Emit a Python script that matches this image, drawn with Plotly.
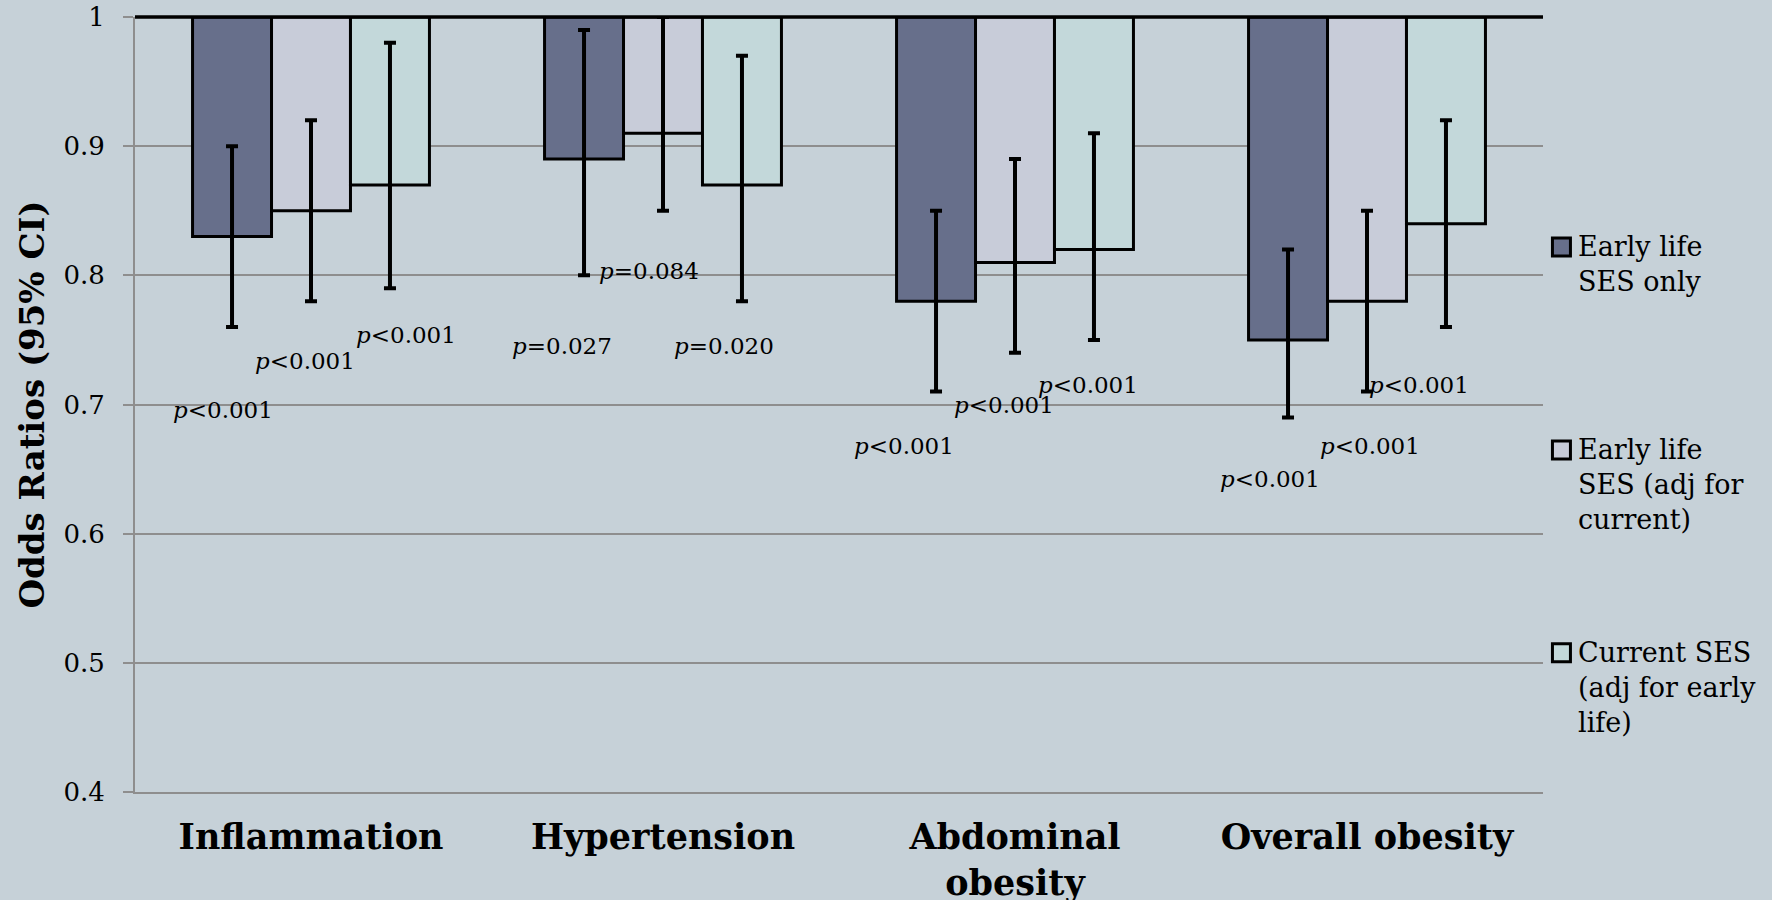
import plotly.graph_objects as go

# ---------------- data ----------------
categories = ["Inflammation", "Hypertension", "Abdominal<br>obesity", "Overall obesity"]
series_names = ["Early life<br>SES only",
                "Early life<br>SES (adj for<br>current)",
                "Current SES<br>(adj for early<br>life)"]

early_only = [0.83, 0.89, 0.78, 0.75]
early_only_lo = [0.76, 0.80, 0.71, 0.69]
early_only_hi = [0.90, 0.99, 0.85, 0.82]

early_adj = [0.85, 0.91, 0.81, 0.78]
early_adj_lo = [0.78, 0.85, 0.74, 0.71]
early_adj_hi = [0.92, 1.00, 0.89, 0.85]

current = [0.87, 0.87, 0.82, 0.84]
current_lo = [0.79, 0.78, 0.75, 0.76]
current_hi = [0.98, 0.97, 0.91, 0.92]

# p-value labels per category and series
p_texts = [
    ["&lt;0.001", "&lt;0.001", "&lt;0.001"],
    ["=0.027", "=0.084", "=0.020"],
    ["&lt;0.001", "&lt;0.001", "&lt;0.001"],
    ["&lt;0.001", "&lt;0.001", "&lt;0.001"],
]
p_label_y = [
    [0.696, 0.734, 0.754],
    [0.745, 0.803, 0.745],
    [0.668, 0.700, 0.715],
    [0.642, 0.668, 0.715],
]
p_label_dx = [
    [-0.25, -0.016, 0.27],
    [-0.287, -0.041, 0.173],
    [-0.316, -0.032, 0.206],
    [-0.276, 0.008, 0.149],
]

y_ticks = [0.4, 0.5, 0.6, 0.7, 0.8, 0.9, 1.0]
y_ticktext = ["0.4", "0.5", "0.6", "0.7", "0.8", "0.9", "1"]

# ---------------- style ----------------
BG = "#c6d1d8"
COLORS = ["#676f8b", "#c8ccd9", "#c3d8da"]
GRID = "#8e8e8e"
FONT = "DejaVu Serif"

fig = go.Figure()

values = [early_only, early_adj, current]
lows = [early_only_lo, early_adj_lo, current_lo]
highs = [early_only_hi, early_adj_hi, current_hi]

for name, vals, lo, hi, col in zip(series_names, values, lows, highs, COLORS):
    fig.add_trace(go.Bar(
        x=categories,
        y=[v - 1 for v in vals],
        base=[1] * len(vals),
        name=name,
        marker=dict(color=col, line=dict(color="black", width=3)),
        error_y=dict(type="data", symmetric=False,
                     array=[h - v for h, v in zip(hi, vals)],
                     arrayminus=[v - l for v, l in zip(vals, lo)],
                     color="black", thickness=4, width=6),
        showlegend=False,
    ))

annotations = []
for ci in range(len(categories)):
    for si in range(3):
        annotations.append(dict(
            x=ci + p_label_dx[ci][si], y=p_label_y[ci][si], xref="x", yref="y",
            text="<i>p</i>" + p_texts[ci][si], showarrow=False,
            xanchor="center", yanchor="middle",
            font=dict(family=FONT, size=23, color="black"),
        ))

# legend (drawn manually to match the reference layout)
legend_y_top = [0.7263, 0.4645, 0.2027]
legend_y_sq = [0.7031, 0.4414, 0.1796]
shapes = []
for name, col, yt, ys in zip(series_names, COLORS, legend_y_top, legend_y_sq):
    shapes.append(dict(type="rect", xref="paper", yref="paper",
                       xsizemode="pixel", ysizemode="pixel",
                       xanchor=1.0131, yanchor=ys,
                       x0=-9, x1=9, y0=-9, y1=9,
                       fillcolor=col, line=dict(color="black", width=3)))
    annotations.append(dict(
        x=1.0235, y=yt, xref="paper", yref="paper", text=name,
        showarrow=False, xanchor="left", yanchor="top", align="left",
        font=dict(family=FONT, size=27, color="black"),
    ))

# thick reference line at OR = 1
shapes.append(dict(type="line", xref="x domain", yref="y domain",
                   x0=0, x1=1, y0=1, y1=1,
                   line=dict(color="black", width=3.5)))

fig.update_layout(
    width=1772, height=900,
    margin=dict(l=135, r=229, t=17, b=108),
    paper_bgcolor=BG, plot_bgcolor=BG,
    barmode="group", bargap=0.327, bargroupgap=0,
    font=dict(family=FONT, color="black"),
    annotations=annotations, shapes=shapes,
    xaxis=dict(
        automargin=False,
        showgrid=False, showline=True, linecolor=GRID, linewidth=2,
        ticks="", ticklabelstandoff=13,
        tickfont=dict(family=FONT, size=35, color="black", weight="bold"),
    ),
    yaxis=dict(
        automargin=False,
        range=[0.4, 1.0], tickmode="array", tickvals=y_ticks, ticktext=y_ticktext,
        showgrid=True, gridcolor=GRID, gridwidth=1.6,
        showline=True, linecolor=GRID, linewidth=2,
        ticks="outside", ticklen=10, tickcolor=GRID, tickwidth=2,
        ticklabelstandoff=13,
        tickfont=dict(family=FONT, size=26, color="black"),
        zeroline=False,
        title=dict(text="Odds Ratios (95% CI)", standoff=9,
                   font=dict(family=FONT, size=34, color="black", weight="bold")),
    ),
)

fig.write_html("out.html")
